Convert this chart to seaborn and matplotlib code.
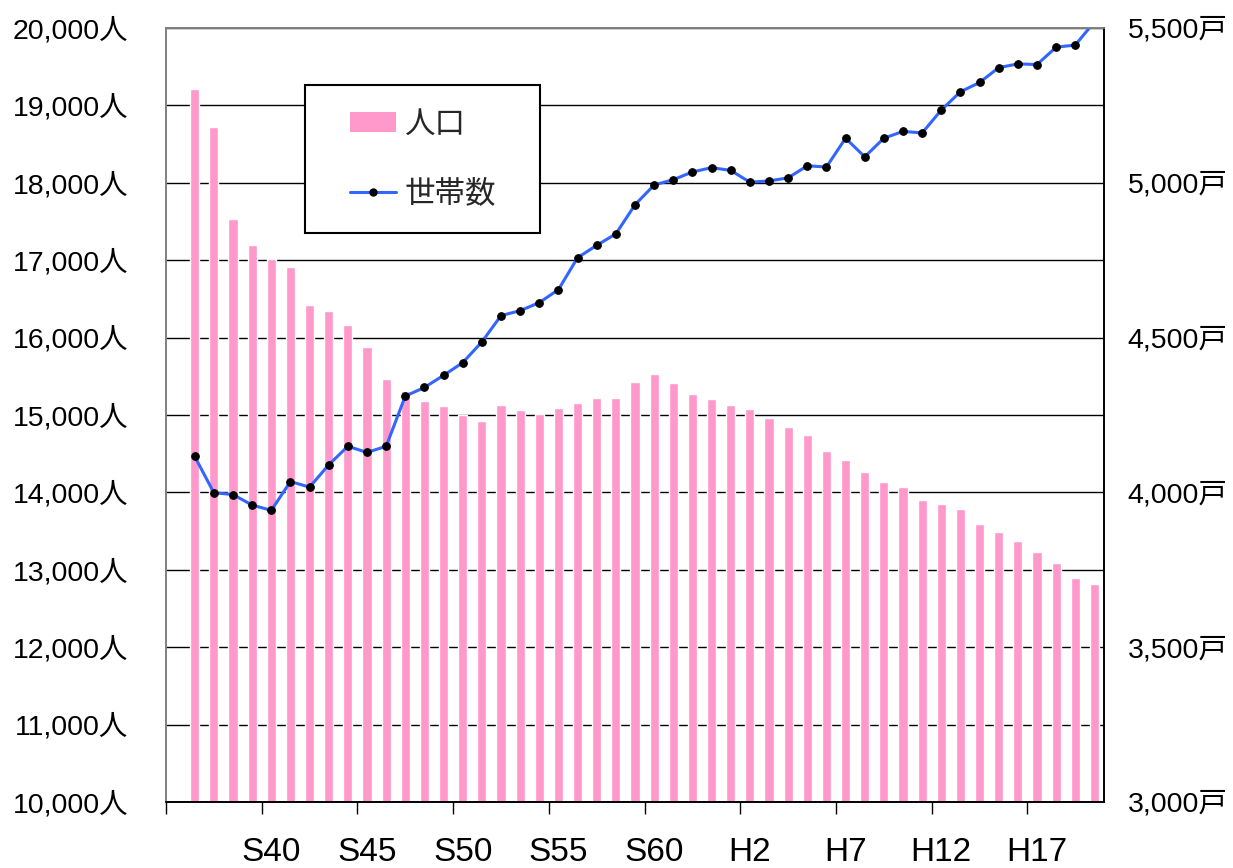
import matplotlib
matplotlib.use("Agg")
import matplotlib.pyplot as plt
import seaborn as sns
import pandas as pd
from matplotlib.ticker import FuncFormatter
from matplotlib.patches import Rectangle, Patch
from matplotlib.lines import Line2D

# Categories: S35 .. H20 (S35 has no data, it only reserves the first slot)
all_years = ['S35', 'S36', 'S37', 'S38', 'S39', 'S40', 'S41', 'S42', 'S43', 'S44',
             'S45', 'S46', 'S47', 'S48', 'S49', 'S50', 'S51', 'S52', 'S53', 'S54',
             'S55', 'S56', 'S57', 'S58', 'S59', 'S60', 'S61', 'S62', 'S63',
             'H1', 'H2', 'H3', 'H4', 'H5', 'H6', 'H7', 'H8', 'H9', 'H10',
             'H11', 'H12', 'H13', 'H14', 'H15', 'H16', 'H17', 'H18', 'H19', 'H20']
data_years = all_years[1:]

# 人口 (people)
population = [19210, 18720, 17530, 17200, 17020, 16910, 16420, 16340, 16160, 15880,
              15470, 15310, 15180, 15120, 15000, 14920, 15130, 15060, 15010, 15090,
              15150, 15220, 15220, 15430, 15530, 15410, 15270, 15210,
              15130, 15080, 14960, 14850, 14740, 14540, 14420, 14260, 14130, 14070,
              13900, 13850, 13790, 13590, 13490, 13370, 13230, 13090, 12890, 12820]

# 世帯数 (households)
households = [4116, 3999, 3993, 3959, 3942, 4035, 4017, 4089, 4149, 4129,
              4149, 4311, 4339, 4378, 4419, 4486, 4571, 4587, 4613, 4655,
              4758, 4798, 4835, 4929, 4993, 5010, 5035, 5049,
              5040, 5002, 5006, 5016, 5055, 5051, 5144, 5084, 5144, 5166,
              5161, 5235, 5294, 5324, 5372, 5384, 5382, 5438, 5445, 5520]

tick_years = ['S40', 'S45', 'S50', 'S55', 'S60', 'H2', 'H7', 'H12', 'H17']

bar_color = '#FF99CC'
line_color = '#3366FF'

sns.set_theme(style="white")
plt.rcParams['font.family'] = ['Liberation Sans', 'Noto Sans CJK JP']

fig = plt.figure(figsize=(12.33, 8.68), dpi=100)
ax = fig.add_axes([166 / 1233, 66 / 868, 938 / 1233, 774 / 868])

df = pd.DataFrame({'year': data_years, 'population': population, 'households': households})
df['pos'] = [all_years.index(y) for y in df['year']]

sns.barplot(data=df, x='year', y='population', order=all_years, color=bar_color,
            saturation=1, width=0.48, ax=ax)
ax.set_ylim(10000, 20000)
ax.set_yticks(range(10000, 20001, 1000))
ax.yaxis.set_major_formatter(FuncFormatter(lambda v, p: f'{int(v):,}人'))
ax.yaxis.grid(True, color='black', lw=1)
ax.set_axisbelow(True)
ax.set_xlabel('')
ax.set_ylabel('')

# household line on the right axis
ax2 = ax.twinx()
sns.lineplot(data=df, x='pos', y='households', ax=ax2, color=line_color, lw=2.2,
             marker='o', markersize=5.5, markerfacecolor='black',
             markeredgecolor='black', legend=False)
ax2.set_ylim(3000, 5500)
ax2.set_yticks(range(3000, 5501, 500))
ax2.yaxis.set_major_formatter(FuncFormatter(lambda v, p: f'{int(v):,}戸'))
ax2.grid(False)
ax2.set_xlabel('')
ax2.set_ylabel('')

ax.set_xlim(-0.5, len(all_years) - 0.5)
ax.set_xticks([all_years.index(t) for t in tick_years])
ax.set_xticklabels(tick_years)
ax.set_xticks([all_years.index(t) - 0.5 for t in ['S35'] + tick_years], minor=True)

ax.tick_params(axis='x', which='major', length=0, pad=25, labelsize=24, colors='black')
ax.tick_params(axis='x', which='minor', bottom=True, length=8.5, width=1,
               color='black', direction='out')
ax.tick_params(axis='y', length=0, pad=27, labelsize=20.5, labelcolor='black')
ax2.tick_params(axis='y', length=0, pad=17, labelsize=20.5, labelcolor='black')

for a in (ax, ax2):
    a.spines['left'].set_color('#808080')
    a.spines['top'].set_color('#808080')
    a.spines['right'].set_color('black')
    a.spines['bottom'].set_color('black')
    for s in a.spines.values():
        s.set_linewidth(1.2)

# legend box
ax2.add_patch(Rectangle((0.1482, 0.7351), 0.2505, 0.1912, transform=ax2.transAxes,
                        facecolor='white', edgecolor='black', lw=1.5, zorder=4,
                        clip_on=False))
handles = [Patch(facecolor=bar_color, edgecolor='none'),
           Line2D([], [], color=line_color, lw=2.2, marker='o', markersize=5,
                  markerfacecolor='black', markeredgecolor='black')]
leg = ax2.legend(handles=handles, labels=['人口', '世帯数'], loc='center left',
                 bbox_to_anchor=(0.196, 0.830), borderaxespad=0, borderpad=0,
                 frameon=False, fontsize=22, handlelength=1.5, handleheight=0.65,
                 handletextpad=0.3, labelspacing=1.3, numpoints=1)
leg.set_zorder(5)

fig.savefig('out.png', dpi=100)
